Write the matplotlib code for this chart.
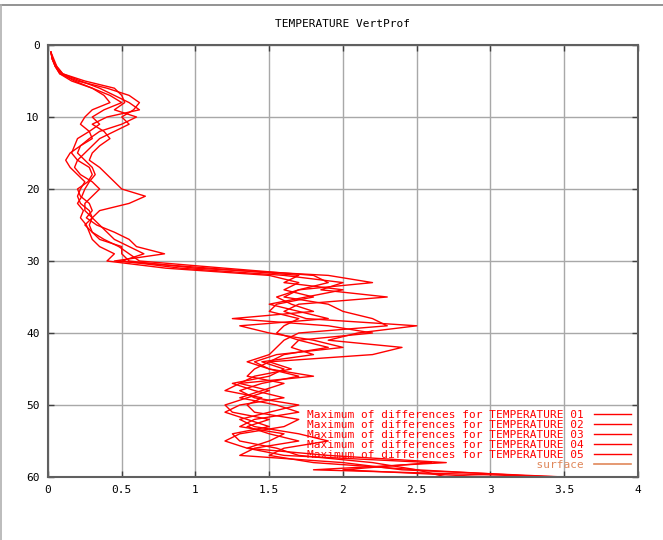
import numpy as np
import matplotlib.pyplot as plt
from matplotlib.lines import Line2D

# model levels 1..60 and max differences per run
levels = np.arange(1, 61)

run_01 = [0.02, 0.03, 0.05, 0.08, 0.20, 0.40, 0.55, 0.62, 0.58, 0.50,
          0.55, 0.45, 0.35, 0.30, 0.25, 0.20, 0.18, 0.22, 0.30, 0.35,
          0.30, 0.25, 0.25, 0.30, 0.35, 0.40, 0.45, 0.55, 0.65, 0.50,
          0.90, 1.60, 2.00, 1.85, 2.30, 1.70, 1.60, 1.75, 2.50, 2.10,
          1.90, 2.40, 2.20, 1.50, 1.40, 1.35, 1.60, 1.45, 1.30, 1.55,
          1.70, 1.40, 1.30, 1.60, 1.50, 1.35, 1.90, 2.70, 1.80, 3.50]
run_02 = [0.02, 0.04, 0.06, 0.10, 0.25, 0.45, 0.50, 0.52, 0.45, 0.60,
          0.50, 0.35, 0.28, 0.22, 0.15, 0.12, 0.15, 0.20, 0.25, 0.22,
          0.20, 0.22, 0.28, 0.30, 0.25, 0.30, 0.38, 0.48, 0.55, 0.62,
          1.20, 1.80, 1.90, 1.70, 1.55, 1.65, 1.80, 1.25, 1.90, 2.20,
          1.70, 1.65, 1.80, 1.45, 1.60, 1.50, 1.25, 1.40, 1.60, 1.30,
          1.20, 1.35, 1.50, 1.25, 1.30, 1.55, 1.70, 2.20, 2.50, 2.70]
run_03 = [0.02, 0.03, 0.05, 0.09, 0.18, 0.30, 0.42, 0.50, 0.38, 0.30,
          0.35, 0.28, 0.20, 0.18, 0.16, 0.20, 0.28, 0.30, 0.27, 0.20,
          0.22, 0.28, 0.30, 0.26, 0.33, 0.45, 0.55, 0.60, 0.79, 0.45,
          1.10, 1.70, 1.60, 2.00, 1.75, 1.50, 1.70, 1.90, 1.30, 1.50,
          1.80, 2.00, 1.55, 1.40, 1.50, 1.70, 1.45, 1.30, 1.40, 1.70,
          1.50, 1.30, 1.40, 1.70, 1.90, 1.60, 1.50, 1.80, 2.50, 3.40]
run_04 = [0.02, 0.03, 0.06, 0.10, 0.22, 0.35, 0.45, 0.55, 0.62, 0.40,
          0.30, 0.38, 0.42, 0.35, 0.30, 0.28, 0.35, 0.40, 0.45, 0.50,
          0.66, 0.55, 0.35, 0.30, 0.28, 0.30, 0.35, 0.50, 0.50, 0.55,
          1.00, 1.90, 2.20, 1.70, 1.60, 1.90, 2.00, 2.20, 2.30, 1.70,
          1.60, 1.55, 1.50, 1.35, 1.50, 1.80, 1.30, 1.20, 1.45, 1.35,
          1.40, 1.70, 1.60, 1.30, 1.20, 1.35, 1.60, 2.60, 2.00, 3.00]
run_05 = [0.02, 0.03, 0.05, 0.08, 0.16, 0.30, 0.38, 0.42, 0.30, 0.25,
          0.22, 0.28, 0.30, 0.22, 0.20, 0.25, 0.30, 0.32, 0.28, 0.25,
          0.23, 0.20, 0.24, 0.22, 0.26, 0.28, 0.30, 0.35, 0.45, 0.40,
          0.80, 1.50, 1.70, 1.60, 1.80, 1.55, 1.50, 1.70, 1.60, 1.55,
          1.70, 1.90, 1.60, 1.50, 1.65, 1.40, 1.30, 1.50, 1.35, 1.20,
          1.25, 1.50, 1.35, 1.50, 1.70, 1.40, 1.30, 2.00, 2.40, 3.50]
runs = [run_01, run_02, run_03, run_04, run_05]
run_ids = ['01', '02', '03', '04', '05']

surface_level = 60
x_range = [0, 4]

fig = plt.figure(figsize=(6.63, 5.40), dpi=100)
ax = fig.add_axes([48 / 663, 63 / 540, 590 / 663, 432 / 540])

mono = 'DejaVu Sans Mono'
labels = []
for run, rid in zip(runs, run_ids):
    labels.append('Maximum of differences for TEMPERATURE ' + rid)
    ax.plot(run, levels, color='red', lw=1.0, label=labels[-1])

width = len(labels[0])
ax.plot(x_range, [surface_level, surface_level], color='#e0875a', lw=1.2,
        label='surface'.rjust(width))

ax.set_xlim(0, 4)
ax.set_ylim(60, 0)
ax.set_xticks(np.arange(0, 4.01, 0.5))
ax.set_xticklabels(['0', '0.5', '1', '1.5', '2', '2.5', '3', '3.5', '4'])
ax.set_yticks(np.arange(0, 61, 10))
ax.grid(True, color='#a8a8a8', lw=1.0)
ax.set_axisbelow(True)
ax.tick_params(direction='in', length=4, width=1, color='#404040',
               top=True, right=True, labelsize=8, pad=6)
for lab in ax.get_xticklabels() + ax.get_yticklabels():
    lab.set_family(mono)
for sp in ax.spines.values():
    sp.set_color('#606060')
    sp.set_linewidth(1.5)

ax.set_title('TEMPERATURE VertProf', fontsize=8, family=mono, pad=13)

leg = ax.legend(loc='lower right', markerfirst=False, frameon=False,
                prop={'family': mono, 'size': 8.0}, handlelength=3.4,
                labelspacing=0.0, borderaxespad=0.2, handletextpad=0.9)
for txt, h in zip(leg.get_texts(), leg.legend_handles):
    txt.set_color(h.get_color())

# outer frame edges
fig.add_artist(Line2D([0, 1], [1 - 5 / 540, 1 - 5 / 540], color='#808080', lw=1.2))
fig.add_artist(Line2D([1 / 663, 1 / 663], [0, 1 - 5 / 540], color='#b0b0b0', lw=1.2))

fig.savefig('out.png', dpi=100)
